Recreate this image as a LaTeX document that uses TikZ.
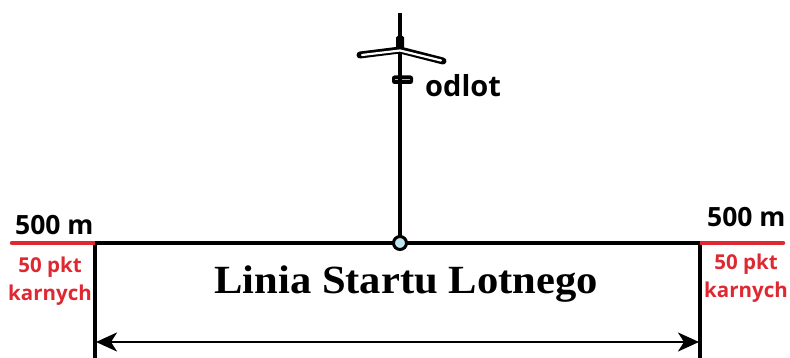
\documentclass[tikz,border=0pt]{standalone}
\usepackage{fontspec}
\setmainfont{Liberation Serif}
\newfontfamily\labfont{Open Sans}
\usetikzlibrary{arrows.meta}
\definecolor{penred}{RGB}{222,40,50}
\definecolor{hubblue}{RGB}{190,228,240}
\tikzset{
  mainline/.style={line width=4.8pt, black},
  sideline/.style={line width=3.2pt, black},
  redline/.style={line width=4.5pt, penred, line cap=round},
  mast/.style={line width=3.6pt, black},
  dimline/.style={line width=2.4pt, black, {Stealth[length=21pt,width=19pt,inset=6pt]}-{Stealth[length=21pt,width=19pt,inset=6pt]}},
  dist/.style={font=\labfont\bfseries\fontsize{26.5}{30}\selectfont, anchor=base west, inner sep=0},
  depart/.style={font=\labfont\bfseries\fontsize{29}{32}\selectfont, anchor=base west, inner sep=0},
  penalty/.style={font=\labfont\bfseries\fontsize{20.5}{28}\selectfont, text=penred, align=center, inner sep=0, anchor=base},
  title/.style={font=\bfseries\fontsize{40}{44}\selectfont, anchor=base, inner sep=0},
}
\begin{document}
\begin{tikzpicture}[x=1pt,y=-1pt]
\useasboundingbox (0,0) rectangle (790,358);
% coordinates
\coordinate (L) at (95,243);
\coordinate (R) at (700,243);
\coordinate (C) at (400,243);
\coordinate (top) at (400,13);
\coordinate (LB) at (95,360);
\coordinate (RB) at (700,360);
\coordinate (redL) at (12,243);
\coordinate (redR) at (783,243);
\coordinate (aL) at (96,342);
\coordinate (aR) at (699,342);
% lines
\draw[redline] (redL) -- (L);
\draw[redline] (R) -- (redR);
\draw[mainline] (L) -- (R);
\draw[sideline] ([yshift=-2pt]L) -- (LB);
\draw[sideline] ([yshift=-2pt]R) -- (RB);
\draw[mast] (top) -- (C);
\draw[dimline] (aL) -- (aR);
% plane
\coordinate (wl) at (360,55);
\coordinate (wc) at (400,50);
\coordinate (wr) at (443,61);
\draw[line width=7pt, black, line cap=round, line join=round] (wl) -- (wc) -- (wr);
\draw[line width=2.2pt, white, line cap=round, line join=round] (362,55) -- (400,50.5) -- (441,60.5);
\fill[black, rounded corners=1.5pt] (396,36) rectangle (404,49);
\fill[black, rounded corners=2.5pt] (392,75.5) rectangle (413,84);
\draw[line width=0.7pt, gray!60] (395,79.5) -- (410,79.5);
\draw[mast] (400,75) -- (400,84);
% hub
\node[circle, draw=black, line width=3pt, fill=hubblue, minimum size=13pt, inner sep=0pt] (hub) at (C) {};
% labels
\node[depart] (odlot) at (425,97) {odlot};
\node[dist] (distL) at (15,235) {500 m};
\node[dist] (distR) at (707,227) {500 m};
\node[penalty] (penL) at (50,300) {50 pkt\\karnych};
\node[penalty] (penR) at (746,297) {50 pkt\\karnych};
\node[title] (lsl) at (406,293) {\scalebox{1.065}[1]{Linia Startu Lotnego}};
\end{tikzpicture}
\end{document}
